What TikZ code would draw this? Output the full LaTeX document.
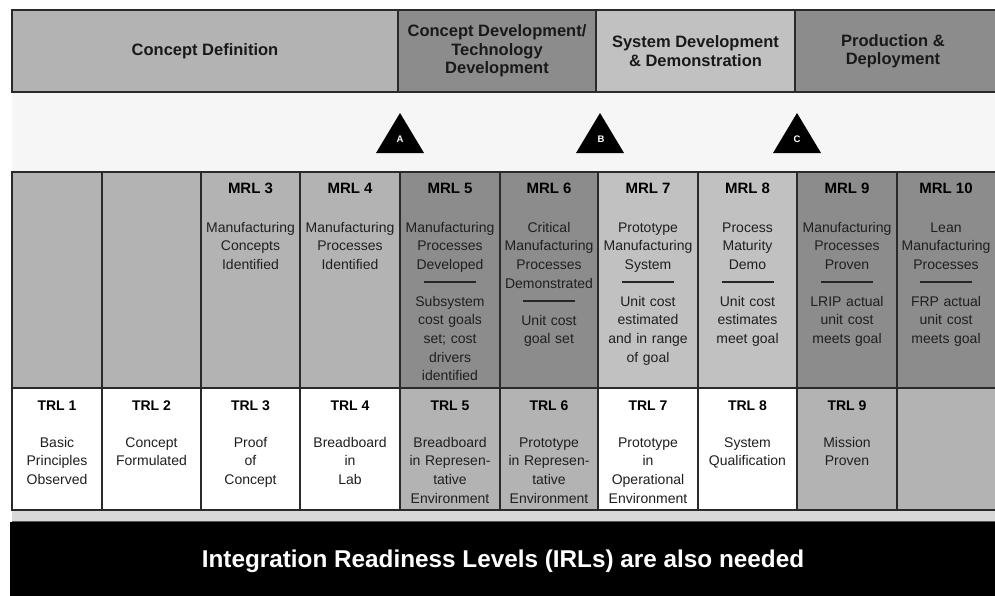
\documentclass[tikz,border=0pt]{standalone}
\usepackage{fontspec}
\setmainfont{Liberation Sans}
\definecolor{lightg}{HTML}{B3B3B3}
\definecolor{darkg}{HTML}{8C8C8C}
\definecolor{paleg}{HTML}{C1C1C1}
\definecolor{trlg}{HTML}{B3B3B3}
\definecolor{edge}{HTML}{2A2A2A}
\definecolor{bandg}{HTML}{F6F6F6}
\definecolor{stripg}{HTML}{D8D8D8}
\tikzset{
  cell/.style={draw=edge, line width=1.5pt, inner sep=0pt, outer sep=0pt},
  hdtext/.style={align=center, font=\bfseries\fontsize{16.5}{18.5}\selectfont, text=black!90},
  mtitle/.style={anchor=base, font=\bfseries\fontsize{15}{18}\selectfont, text=black, inner sep=0pt},
  ttitle/.style={anchor=base, font=\bfseries\fontsize{14}{18}\selectfont, text=black, inner sep=0pt},
  body/.style={anchor=base, align=center, text width=98pt, inner sep=0pt, font=\fontsize{14}{18.7}\selectfont, text=black!88},
  rulel/.style={draw=black!85, line width=1.3pt},
  tri/.style={fill=black},
  trilabel/.style={text=white, font=\bfseries\fontsize{9.5}{9.5}\selectfont, inner sep=0pt}
}
\newcommand\mkcell[6]{\node[cell, fill=#6, minimum width={(#4-#2)*1pt}, minimum height={(#5-#3)*1pt}] (#1) at ({(#2+#4)/2},{(#3+#5)/2}) {};}
\begin{document}
\begin{tikzpicture}[x=1pt,y=-1pt]
\useasboundingbox (0,0) rectangle (995,595);
\fill[white] (0,0) rectangle (995,595);
% milestone band
\fill[bandg] (12,92) rectangle (997,172);
% header
\mkcell{h1}{12}{10}{398}{92}{lightg}
\mkcell{h2}{398}{10}{596}{92}{darkg}
\mkcell{h3}{596}{10}{795}{92}{paleg}
\mkcell{h4}{795}{10}{997}{92}{darkg}
\node[hdtext] (h1t) at (205,51) {Concept Definition};
\node[hdtext] (h2t) at (497,51) {Concept Development/\\Technology\\Development};
\node[hdtext] (h3t) at (695.5,51) {System Development\\\& Demonstration};
\node[hdtext] (h4t) at (893,51) {Production \&\\Deployment};
% milestones
\fill[tri] (400,113) -- (376,153) -- (424,153) -- cycle;
\fill[tri] (600,113) -- (576,153) -- (624,153) -- cycle;
\fill[tri] (797,113) -- (773,153) -- (821,153) -- cycle;
\node[trilabel] (ma) at (400,139) {A};
\node[trilabel] (mb) at (601,139) {B};
\node[trilabel] (mc) at (797,139) {C};
% MRL row
\mkcell{m1}{12}{172}{102}{388}{lightg}
\mkcell{m2}{102}{172}{201}{388}{lightg}
\mkcell{m3}{201}{172}{300}{388}{lightg}
\mkcell{m4}{300}{172}{400}{388}{lightg}
\mkcell{m5}{400}{172}{500}{388}{darkg}
\mkcell{m6}{500}{172}{598}{388}{darkg}
\mkcell{m7}{598}{172}{698}{388}{paleg}
\mkcell{m8}{698}{172}{797}{388}{paleg}
\mkcell{m9}{797}{172}{897}{388}{darkg}
\mkcell{m10}{897}{172}{997}{388}{darkg}
% TRL row
\mkcell{t1}{12}{388}{102}{510}{white}
\mkcell{t2}{102}{388}{201}{510}{white}
\mkcell{t3}{201}{388}{300}{510}{white}
\mkcell{t4}{300}{388}{400}{510}{white}
\mkcell{t5}{400}{388}{500}{510}{trlg}
\mkcell{t6}{500}{388}{598}{510}{trlg}
\mkcell{t7}{598}{388}{698}{510}{white}
\mkcell{t8}{698}{388}{797}{510}{white}
\mkcell{t9}{797}{388}{897}{510}{trlg}
\mkcell{t10}{897}{388}{997}{510}{trlg}
% MRL texts
\node[mtitle] (m3h) at (250.5,193) {MRL 3};
\node[mtitle] (m4h) at (350,193) {MRL 4};
\node[mtitle] (m5h) at (450,193) {MRL 5};
\node[mtitle] (m6h) at (549,193) {MRL 6};
\node[mtitle] (m7h) at (648,193) {MRL 7};
\node[mtitle] (m8h) at (747.5,193) {MRL 8};
\node[mtitle] (m9h) at (847,193) {MRL 9};
\node[mtitle] (m10h) at (946,193) {MRL 10};
\node[body] (m3a) at (250.5,232) {Manufacturing\\Concepts\\Identified};
\node[body] (m4a) at (350,232) {Manufacturing\\Processes\\Identified};
\node[body] (m5a) at (450,232) {Manufacturing\\Processes\\Developed};
\node[body] (m6a) at (549,232) {Critical\\Manufacturing\\Processes\\Demonstrated};
\node[body] (m7a) at (648,232) {Prototype\\Manufacturing\\System};
\node[body] (m8a) at (747.5,232) {Process\\Maturity\\Demo};
\node[body] (m9a) at (847,232) {Manufacturing\\Processes\\Proven};
\node[body] (m10a) at (946,232) {Lean\\Manufacturing\\Processes};
\draw[rulel] (424,282) -- (476,282);
\draw[rulel] (523,301) -- (575,301);
\draw[rulel] (622,282) -- (674,282);
\draw[rulel] (721.5,282) -- (773.5,282);
\draw[rulel] (821,282) -- (873,282);
\draw[rulel] (920,282) -- (972,282);
\node[body] (m5b) at (450,306) {Subsystem\\cost goals\\set; cost\\drivers\\identified};
\node[body] (m6b) at (549,325) {Unit cost\\goal set};
\node[body] (m7b) at (648,306) {Unit cost\\estimated\\and in range\\of goal};
\node[body] (m8b) at (747.5,306) {Unit cost\\estimates\\meet goal};
\node[body] (m9b) at (847,306) {LRIP actual\\unit cost\\meets goal};
\node[body] (m10b) at (946,306) {FRP actual\\unit cost\\meets goal};
% TRL texts
\node[ttitle] (t1h) at (57,410) {TRL 1};
\node[ttitle] (t2h) at (151.5,410) {TRL 2};
\node[ttitle] (t3h) at (250.5,410) {TRL 3};
\node[ttitle] (t4h) at (350,410) {TRL 4};
\node[ttitle] (t5h) at (450,410) {TRL 5};
\node[ttitle] (t6h) at (549,410) {TRL 6};
\node[ttitle] (t7h) at (648,410) {TRL 7};
\node[ttitle] (t8h) at (747.5,410) {TRL 8};
\node[ttitle] (t9h) at (847,410) {TRL 9};
\node[body, text width=88pt] (t1a) at (57,447) {Basic\\Principles\\Observed};
\node[body] (t2a) at (151.5,447) {Concept\\Formulated};
\node[body] (t3a) at (250.5,447) {Proof\\of\\Concept};
\node[body] (t4a) at (350,447) {Breadboard\\in\\Lab};
\node[body] (t5a) at (450,447) {Breadboard\\in Represen-\\tative\\Environment};
\node[body] (t6a) at (549,447) {Prototype\\in Represen-\\tative\\Environment};
\node[body] (t7a) at (648,447) {Prototype\\in\\Operational\\Environment};
\node[body] (t8a) at (747.5,447) {System\\Qualification};
\node[body] (t9a) at (847,447) {Mission\\Proven};
% bottom strip and banner
\fill[stripg] (12,511) rectangle (997,521);
\draw[draw=black!65, line width=1pt] (12,521.5) -- (997,521.5);
\fill[black] (10,522) rectangle (997,597);
\node[text=white, font=\bfseries\fontsize{24.3}{28}\selectfont] (irl) at (503,561) {Integration Readiness Levels (IRLs) are also needed};
\end{tikzpicture}
\end{document}
